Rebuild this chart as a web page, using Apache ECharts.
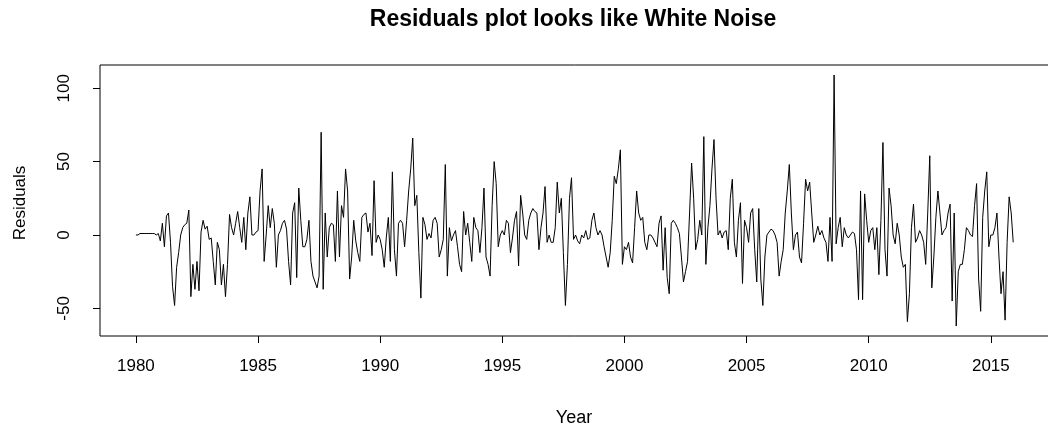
<!DOCTYPE html>
<html>
<head>
<meta charset="utf-8">
<script src="https://cdn.jsdelivr.net/npm/echarts@6/dist/echarts.min.js"></script>
<style>html,body{margin:0;padding:0;background:#fff;}#c{width:1048px;height:432px;}</style>
</head>
<body>
<div id="c"></div>
<script>
// Monthly residuals, starting January 1980
const startYear = 1980;
const frequency = 12;
const residuals = [
  0,0,1,1,1,1,1,1,1,1,0,1,
  -4,8,-8,13,15,-5,-35,-48,-22,-12,0,5,7,8,17,-42,-20,-37,-18,-38,2,10,4,6,-3,-2,
  -18,-34,-5,-10,-34,-20,-42,-20,14,5,
  0,8,16,5,-5,12,-10,15,26,0,
  0,2,3,30,45,-18,0,20,5,18,
  8,-22,0,3,8,10,4,-18,-34,15,
  22,-29,32,10,-8,-8,-3,10,-18,-28,
  -32,-36,-28,70,-37,15,-15,5,8,7,
  -18,30,-15,20,12,45,30,-30,-15,10,
  -4,-12,-18,12,14,15,2,8,-14,37,
  -5,0,-3,-10,-22,-2,12,-18,43,-10,
  -28,8,10,8,-8,10,30,45,66,20,
  27,-12,-43,12,7,-3,1,-2,10,12,
  8,-15,-10,-3,48,-28,5,-4,0,3,
  -8,-20,-25,16,0,8,-5,-18,12,5,
  3,-12,5,32,-15,-20,-28,20,50,35,
  -8,0,3,0,10,8,-12,-2,10,16,
  -21,27,15,0,-3,10,15,18,16,15,
  -10,5,15,33,-5,0,-5,-5,5,36,
  15,25,-12,-48,-20,25,39,-3,0,-4,
  -6,0,-2,3,-3,-2,10,15,5,0,
  3,0,-8,-15,-22,-12,10,40,35,45,
  58,-20,-8,-10,-5,-15,-19,5,30,15,
  10,12,-5,-10,0,0,-2,-5,-8,8,
  13,-24,5,-29,-40,8,10,8,5,1,
  -15,-32,-25,-18,15,49,25,-10,-3,10,
  0,67,-20,5,20,45,65,25,0,3,
  -2,2,3,-10,25,38,-5,-15,10,22,
  -33,10,5,-5,15,18,-10,-32,18,-30,
  -48,-15,0,2,4,3,0,-5,-28,
  -18,-10,15,30,48,15,-10,0,2,-15,
  -19,8,38,30,36,15,-5,0,6,0,
  3,-2,-5,-18,12,-18,109,-6,5,12,
  -8,5,0,-2,0,2,1,-10,-44,30,
  -44,28,10,-5,3,5,-10,5,-27,10,
  63,-10,-28,32,20,0,-6,8,0,-15,
  -22,-20,-59,-40,5,21,-5,-2,3,0,
  -5,-20,15,54,-36,-15,12,30,15,0,
  3,5,15,21,-45,15,-62,-25,-20,-20,
  -10,5,3,0,-1,20,35,-30,-52,12,
  30,43,-8,0,0,5,15,-15,-40,-25,
  -58,-5,26,15,-5
];
const xTicks = [1980,1985,1990,1995,2000,2005,2010,2015];
const yTicks = [-50,0,50,100];
const titleText = 'Residuals plot looks like White Noise';
const xName = 'Year';
const yName = 'Residuals';

const seriesData = residuals.map((v, i) => [startYear + i / frequency, v]);
const FONT = '"Liberation Sans", Arial, sans-serif';

const chart = echarts.init(document.getElementById('c'), null, {renderer: 'canvas'});
chart.setOption({
  animation: false,
  backgroundColor: '#fff',
  grid: {left: 100, width: 969, top: 65, height: 271, outerBoundsMode: 'none', containLabel: false,
         show: true, borderColor: '#000', borderWidth: 1, backgroundColor: 'transparent'},
  xAxis: {
    type: 'value', min: 1978.53, max: 2018.2, position: 'bottom',
    axisLine: {show: false, onZero: false},
    splitLine: {show: false},
    axisTick: {show: true, length: 7, lineStyle: {color: '#000', width: 1}, customValues: xTicks},
    axisLabel: {customValues: xTicks, margin: 22, fontSize: 17, color: '#000', fontFamily: FONT, formatter: v => String(v)}
  },
  yAxis: {
    type: 'value', min: -68.8, max: 115.8, position: 'left',
    axisLine: {show: false, onZero: false},
    splitLine: {show: false},
    axisTick: {show: true, length: 7, lineStyle: {color: '#000', width: 1}, customValues: yTicks},
    axisLabel: {customValues: yTicks, rotate: 90, margin: 27, fontSize: 17, color: '#000', fontFamily: FONT, formatter: v => String(v)}
  },
  series: [{
    type: 'line', data: seriesData, showSymbol: false, silent: true,
    lineStyle: {color: '#000', width: 1}
  }],
  graphic: [
    {type: 'text', x: 573, y: 20, style: {text: titleText, font: 'bold 23px ' + FONT, fill: '#000', textAlign: 'center', textVerticalAlign: 'middle'}},
    {type: 'text', x: 574, y: 418, style: {text: xName, font: '18px ' + FONT, fill: '#000', textAlign: 'center', textVerticalAlign: 'middle'}},
    {type: 'text', x: 20, y: 203, rotation: Math.PI / 2, style: {text: yName, font: '17px ' + FONT, fill: '#000', textAlign: 'center', textVerticalAlign: 'middle'}}
  ]
});
</script>
</body>
</html>
